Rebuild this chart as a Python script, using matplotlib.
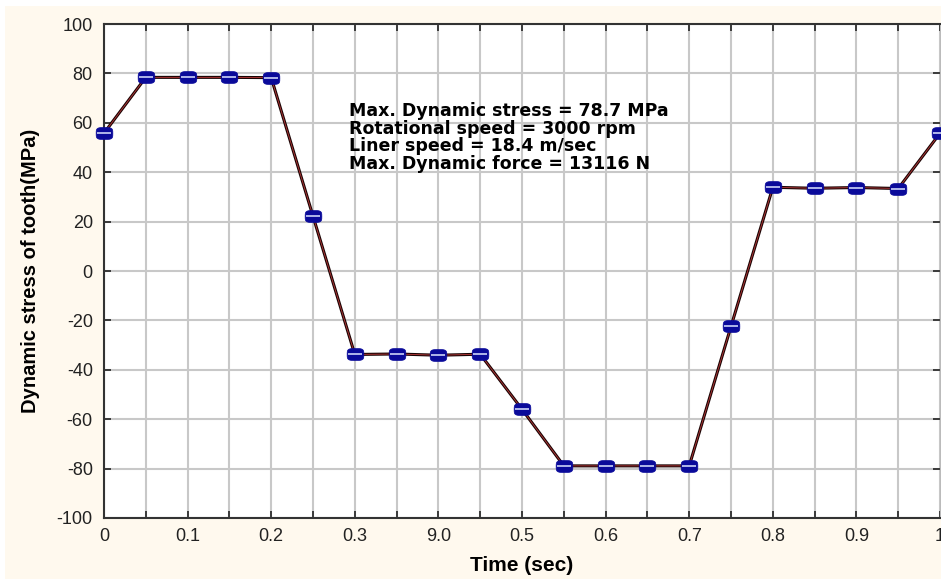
import matplotlib
matplotlib.use("Agg")
import matplotlib.pyplot as plt
from matplotlib.patches import Rectangle
import numpy as np

plt.rcParams['font.family'] = ['Liberation Sans', 'DejaVu Sans']
plt.rcParams['axes.unicode_minus'] = False

# time samples (sec) and dynamic stress values (MPa)
time = [0.0, 0.05, 0.1, 0.15, 0.2, 0.25, 0.3, 0.35, 0.4, 0.45, 0.5,
        0.55, 0.6, 0.65, 0.7, 0.75, 0.8, 0.85, 0.9, 0.95, 1.0]
stress = [55.8, 78.4, 78.4, 78.4, 78.3, 22.2, -33.8, -33.6, -34.1, -33.7, -56.0,
          -78.9, -78.9, -78.9, -78.9, -22.4, 33.9, 33.5, 33.8, 33.4, 55.8]

x_tick_pos = [0, 0.1, 0.2, 0.3, 0.4, 0.5, 0.6, 0.7, 0.8, 0.9, 1.0]
x_tick_labels = ["0", "0.1", "0.2", "0.3", "9.0", "0.5", "0.6", "0.7", "0.8", "0.9", "1"]
y_ticks = [-100, -80, -60, -40, -20, 0, 20, 40, 60, 80, 100]

info_lines = ["Max. Dynamic stress = 78.7 MPa",
              "Rotational speed = 3000 rpm",
              "Liner speed = 18.4 m/sec",
              "Max. Dynamic force = 13116 N"]

fig = plt.figure(figsize=(9.41, 5.79), dpi=100, facecolor="white")
# cream background panel
fig.patches.append(Rectangle((0.005, 0.0), 0.995, 0.99, transform=fig.transFigure,
                             facecolor="#fff9ee", edgecolor="none", zorder=-10))

ax = fig.add_axes([0.1105, 0.1054, 0.8885, 0.8531])
ax.set_facecolor("white")

ax.set_xlim(0, 1.0)
ax.set_ylim(-100, 100)

ax.set_xticks(np.arange(0, 1.0001, 0.05), minor=True)
ax.set_xticks(x_tick_pos)
ax.set_xticklabels(x_tick_labels)
ax.set_yticks(y_ticks)

ax.grid(True, which="both", axis="x", color="#c8c8c8", lw=1.5)
ax.grid(True, which="major", axis="y", color="#c8c8c8", lw=1.5)
ax.set_axisbelow(True)

ax.tick_params(which="both", direction="in", top=True, right=True,
               length=5, width=1.2, labelsize=13, colors="#222222", pad=7)
ax.tick_params(axis="y", pad=8)

for side in ["left", "bottom", "top"]:
    ax.spines[side].set_color("#333333")
    ax.spines[side].set_linewidth(1.5)
ax.spines["right"].set_color("#bbbbbb")

# wide rounded marker like the original pill-shaped points
t = np.linspace(0, 2 * np.pi, 40)
pill = np.column_stack([1.4 * np.sign(np.cos(t)) * np.abs(np.cos(t)) ** 0.5,
                        np.sign(np.sin(t)) * np.abs(np.sin(t)) ** 0.5])

# line: dark core with a thin red trace, then navy markers
ax.plot(time, stress, color="#1a0303", lw=2.2, zorder=3)
ax.plot(time, stress, color="#b83a3a", lw=0.6, zorder=4)
ax.plot(time, stress, ls="none", marker=pill, ms=12, mfc="#0a0a9a",
        mec="#0a0a9a", mew=0.5, zorder=5, clip_on=False)
ax.plot(time, stress, ls="none", marker="_", ms=9.5, mew=1.1, mec="#dde4ff",
        zorder=6, clip_on=False)

ax.text(0.293, 68.5, "\n".join(info_lines), fontsize=12.5, fontweight="bold",
        family="DejaVu Sans", linespacing=0.98, va="top", ha="left", color="black")

ax.set_xlabel("Time (sec)", fontsize=15, fontweight="bold", labelpad=8)
ax.set_ylabel("Dynamic stress of tooth(MPa)", fontsize=14.5, fontweight="bold", labelpad=12)

fig.savefig("out.png", dpi=100, facecolor=fig.get_facecolor())
